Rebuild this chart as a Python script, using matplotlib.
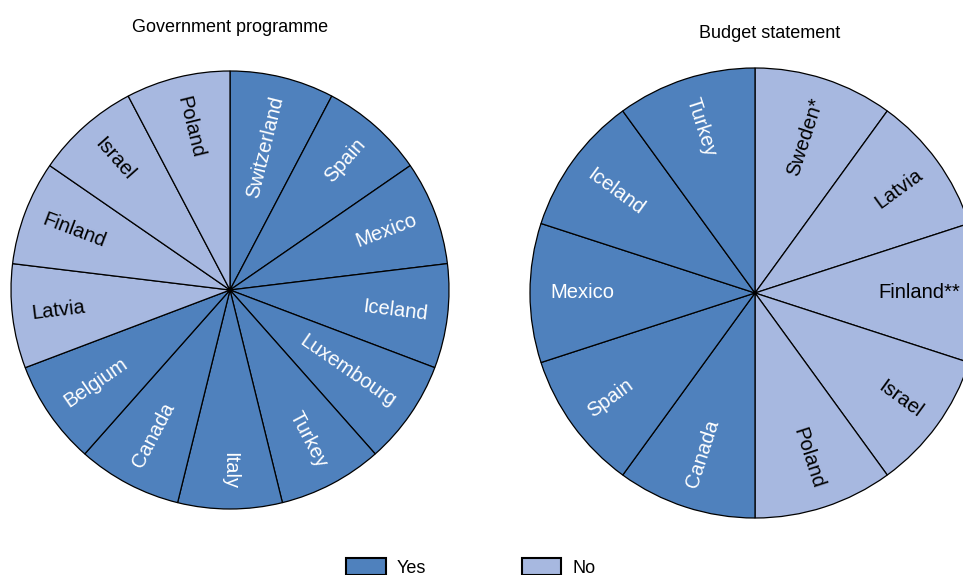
import numpy as np
import matplotlib.pyplot as plt
from matplotlib.patches import Patch

plt.rcParams['font.family'] = ['Liberation Sans', 'DejaVu Sans']

YES_COLOR = '#4f81bd'
NO_COLOR = '#a7b8e0'

# Government programme: countries clockwise from 12 o'clock, and whether each has it
gov_countries = ['Switzerland', 'Spain', 'Mexico', 'Iceland', 'Luxembourg', 'Turkey',
                 'Italy', 'Canada', 'Belgium', 'Latvia', 'Finland', 'Israel', 'Poland']
gov_answers = ['Yes', 'Yes', 'Yes', 'Yes', 'Yes', 'Yes',
               'Yes', 'Yes', 'Yes', 'No', 'No', 'No', 'No']

# Budget statement
bud_countries = ['Sweden*', 'Latvia', 'Finland**', 'Israel', 'Poland',
                 'Canada', 'Spain', 'Mexico', 'Iceland', 'Turkey']
bud_answers = ['No', 'No', 'No', 'No', 'No',
               'Yes', 'Yes', 'Yes', 'Yes', 'Yes']

W, H = 963, 575
fig = plt.figure(figsize=(W / 100, H / 100), dpi=100)


def pie_axes(cx, cy, r):
    return fig.add_axes([(cx - r) / W, (H - cy - r) / H, 2 * r / W, 2 * r / H])


def draw_pie(ax, countries, answers, title, title_xy):
    n = len(countries)
    colors = [YES_COLOR if a == 'Yes' else NO_COLOR for a in answers]
    ax.pie(np.ones(n), colors=colors, startangle=90, counterclock=False, radius=1.0,
           wedgeprops=dict(edgecolor='black', linewidth=0.9))
    ax.set_xlim(-1, 1)
    ax.set_ylim(-1, 1)
    ax.set_aspect('equal')
    ax.axis('off')
    step = 360.0 / n
    for i, (name, ans) in enumerate(zip(countries, answers)):
        ang = 90 - step * (i + 0.5)
        rad = np.deg2rad(ang)
        x, y = 0.91 * np.cos(rad), 0.91 * np.sin(rad)
        if np.cos(rad) >= -1e-9:
            rot, ha = ang, 'right'
        else:
            rot, ha = ang + 180, 'left'
        ax.text(x, y, name, rotation=rot, rotation_mode='anchor', ha=ha, va='center',
                fontsize=14.5, color='white' if ans == 'Yes' else 'black')
    fig.text(title_xy[0] / W, 1 - title_xy[1] / H, title, ha='center', va='center',
             fontsize=13)


ax1 = pie_axes(230, 290, 219)
draw_pie(ax1, gov_countries, gov_answers, 'Government programme', (230, 27))

ax2 = pie_axes(755, 293, 225)
draw_pie(ax2, bud_countries, bud_answers, 'Budget statement', (770, 34))

handles = [Patch(facecolor=YES_COLOR, edgecolor='black', linewidth=1.5, label='Yes'),
           Patch(facecolor=NO_COLOR, edgecolor='black', linewidth=1.5, label='No')]
fig.legend(handles=handles, loc='upper left', bbox_to_anchor=(346 / W, 1 - 558 / H),
           ncol=2, frameon=False, fontsize=13, handlelength=2.2, handleheight=1.1,
           handletextpad=0.6, columnspacing=5.3, borderpad=0, borderaxespad=0)

fig.savefig('out.png', dpi=100)
